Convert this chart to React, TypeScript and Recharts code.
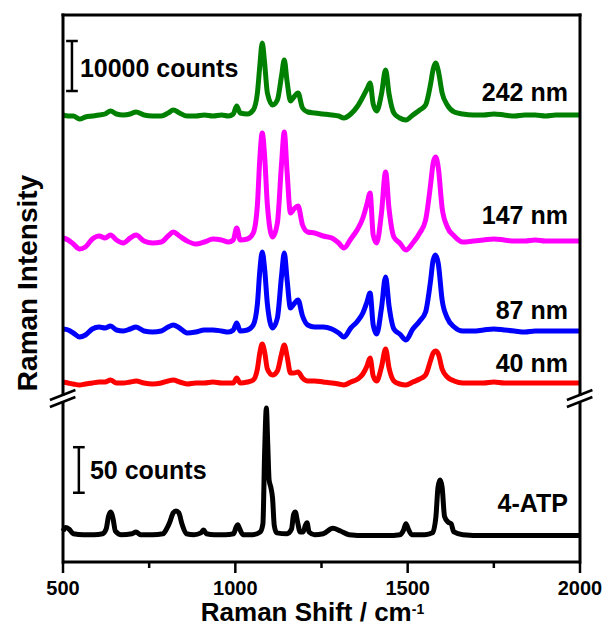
import React from "react";
import { LineChart, Line, XAxis, YAxis, ReferenceLine, ReferenceDot } from "recharts";

const FONT = "'Liberation Sans', Arial, sans-serif";

// Raman shift grid (cm-1) shared by the four SERS spectra
const sersShift = [
  500, 515, 530, 548, 565, 585, 605, 622, 638, 655,
  675, 695, 712, 735, 760, 785, 805, 820, 838, 860,
  885, 910, 935, 960, 980, 994, 1004, 1014, 1035, 1052,
  1064, 1071, 1078, 1085, 1093, 1108, 1122, 1134, 1142, 1150,
  1160, 1170, 1182, 1195, 1210, 1230, 1255, 1280, 1300, 1315,
  1335, 1355, 1370, 1382, 1391, 1400, 1410, 1424, 1436, 1446,
  1460, 1477, 1495, 1515, 1535, 1552, 1566, 1574, 1581, 1589,
  1600, 1615, 1635, 1660, 1690, 1720, 1750, 1780, 1810, 1840,
  1870, 1900, 1930, 1960, 2000,
];

// counts above each trace's own baseline
const sers242 = [
  0, -200, -200, -800, -400, -200, 0, 200, 800, 200,
  0, 200, 600, 0, -200, -200, 400, 1000, 400, -200,
  -200, 0, -200, 0, -200, 200, 1800, 400, 200, 1000,
  4400, 9800, 14400, 10400, 4400, 2000, 3000, 7800, 11000, 6800,
  2800, 3600, 4400, 1400, 600, 400, 200, 0, -200, -600,
  200, 1800, 3600, 5200, 6400, 2200, 800, 4200, 9000, 4200,
  400, -600, -1000, 0, 1000, 2000, 6000, 9200, 10400, 8800,
  4400, 2000, 600, 200, 0, 0, 200, 0, -200, 0,
  0, -200, 0, 0, 0,
];
const sers147 = [
  600, 200, -600, -1600, -1200, 400, 1000, 600, 1200, 200,
  -400, 600, 1200, 0, -400, -200, 1000, 1800, 1000, 0,
  -600, -200, 400, 200, -200, 200, 2600, 200, 400, 1600,
  7200, 16400, 21600, 17000, 7200, 800, 3600, 15400, 21800, 14000,
  5600, 6400, 7000, 3200, 1800, 1600, 1000, 600, -400, -1400,
  400, 2400, 4600, 7400, 9600, 1200, -400, 5600, 13800, 6400,
  800, -400, -1800, -400, 1600, 4200, 11000, 15600, 16800, 14600,
  6600, 2800, 1000, -200, 0, 200, 400, 200, 0, 0,
  200, 0, 0, 0, 0,
];
const sers87 = [
  400, 200, -400, -1200, -800, 400, 800, 600, 1000, 200,
  0, 400, 800, 0, -200, 0, 800, 1200, 600, -400,
  -200, 200, 200, 0, -200, 200, 1600, 0, 200, 1200,
  5400, 12000, 15800, 12400, 5400, 600, 2600, 11000, 15600, 10400,
  4600, 5400, 6200, 3000, 1200, 800, 800, 400, -400, -1200,
  600, 2000, 3600, 5800, 7600, 1200, -600, 4600, 10800, 5000,
  400, -600, -1800, 400, 2000, 3800, 9800, 14200, 15200, 13400,
  6200, 2600, 800, 0, 0, 200, 400, 200, 0, -200,
  0, 0, 0, 0, 0,
];
const sers40 = [
  200, 0, -200, -400, -200, 0, 200, 200, 600, 0,
  0, 200, 400, 0, -200, 0, 400, 600, 200, -200,
  0, 0, 200, 0, 0, 0, 1000, 0, 200, 600,
  2800, 6000, 7800, 6200, 2800, 1600, 2400, 5800, 7600, 5400,
  2000, 2000, 2200, 1000, 400, 400, 200, 0, -200, -400,
  200, 800, 1800, 3400, 5000, 1400, 400, 3200, 6800, 3000,
  400, -200, -400, 200, 800, 1600, 4400, 6000, 6400, 5800,
  2800, 1200, 400, 0, 0, 0, 200, 0, 0, 0,
  0, 0, 0, 0, 0,
];

// stacking offsets (counts)
const stackOffset = { s242: 56600, s147: 31400, s87: 13400, s40: 3000 };

// 4-ATP powder spectrum
const atpShift = [
  500, 508, 518, 530, 560, 590, 615, 625, 632, 638,
  645, 652, 670, 700, 712, 725, 760, 790, 800, 810,
  820, 828, 836, 845, 858, 880, 900, 908, 916, 940,
  970, 995, 1002, 1007, 1013, 1022, 1050, 1072, 1080, 1085,
  1090, 1094, 1098, 1103, 1108, 1113, 1120, 1150, 1163, 1169,
  1174, 1180, 1188, 1197, 1203, 1208, 1214, 1230, 1255, 1283,
  1305, 1330, 1380, 1440, 1478, 1488, 1495, 1502, 1512, 1550,
  1572, 1582, 1588, 1594, 1600, 1607, 1617, 1626, 1634, 1660,
  1720, 1800, 1880, 1950, 2000,
];
const atpCounts = [
  34, 38, 36, 31, 30, 30, 31, 36, 50, 55,
  48, 34, 30, 31, 33, 30, 30, 31, 36, 44,
  54, 56, 54, 42, 31, 30, 32, 35, 31, 30,
  30, 31, 38, 41, 36, 30, 30, 33, 42, 120,
  169, 130, 90, 82, 70, 40, 32, 31, 36, 52,
  55, 45, 33, 33, 40, 43, 33, 30, 31, 37,
  34, 30, 29, 29, 30, 35, 42, 36, 30, 30,
  32, 50, 82, 90, 82, 50, 44, 42, 33, 30,
  29, 29, 29, 29, 29,
];

const xTicks = [500, 750, 1000, 1250, 1500, 1750, 2000];
const xLabels = [500, 1000, 1500, 2000];

const traces = [
  { key: "s242", name: "242 nm", color: "#008000", tagY: 61200 },
  { key: "s147", name: "147 nm", color: "#ff00ff", tagY: 36600 },
  { key: "s87", name: "87 nm", color: "#0000ff", tagY: 17600 },
  { key: "s40", name: "40 nm", color: "#ff0000", tagY: 7000 },
];

const topRows = sersShift.map((x, i) => ({
  x,
  s242: stackOffset.s242 + sers242[i],
  s147: stackOffset.s147 + sers147[i],
  s87: stackOffset.s87 + sers87[i],
  s40: stackOffset.s40 + sers40[i],
}));
const bottomRows = atpShift.map((x, i) => ({ x, atp: atpCounts[i] }));

const TOP_MAX = 76600;
const BOT_MAX = 180;

const txt = { fill: "#000", fontFamily: FONT, fontWeight: 700 };
const frame = { stroke: "#000", strokeWidth: 3, strokeLinecap: "square" as const };
const bar = { stroke: "#000", strokeWidth: 2.5 };

function ShiftTick(props: any) {
  const { x, y, payload } = props;
  const major = xLabels.includes(payload.value);
  return (
    <g>
      <line x1={x} x2={x} y1={y} y2={y + (major ? 11 : 6)} stroke="#000" strokeWidth={2.5} />
      {major && (
        <text x={x} y={y + 33} textAnchor="middle" fontSize={20} {...txt}>
          {payload.value}
        </text>
      )}
    </g>
  );
}

function ShiftTitle(props: any) {
  const vb = props.viewBox;
  return (
    <text x={vb.x + vb.width / 2 - 9} y={vb.y + 59} textAnchor="middle" fontSize={26} {...txt}>
      Raman Shift / cm
      <tspan dy={-7} fontSize={14}>-1</tspan>
    </text>
  );
}

export default function App() {
  return (
    <div style={{ position: "absolute", left: 0, top: 0, width: 609, height: 628, background: "#fff" }}>
      <div style={{ position: "absolute", left: 0, top: 0 }}>
        <LineChart width={609} height={628} data={topRows} margin={{ top: 15, right: 29, bottom: 230, left: 63 }}>
          <XAxis dataKey="x" type="number" domain={[500, 2000]} hide />
          <YAxis type="number" domain={[0, TOP_MAX]} hide />
          {traces.map((t) => (
            <Line
              key={t.key}
              dataKey={t.key}
              type="monotone"
              stroke={t.color}
              strokeWidth={5}
              strokeLinejoin="round"
              dot={false}
              isAnimationActive={false}
            />
          ))}
          <ReferenceLine x={500} {...frame} />
          <ReferenceLine x={2000} {...frame} />
          <ReferenceLine y={TOP_MAX} {...frame} />
          <ReferenceLine segment={[{ x: 526, y: 61400 }, { x: 526, y: 71400 }]} {...bar} />
          <ReferenceLine segment={[{ x: 509, y: 61400 }, { x: 543, y: 61400 }]} {...bar} />
          <ReferenceLine segment={[{ x: 509, y: 71400 }, { x: 543, y: 71400 }]} {...bar} />
          <ReferenceDot
            x={549}
            y={66000}
            r={0}
            label={{ value: "10000 counts", position: "right", offset: 0, fontSize: 25, ...txt }}
          />
          {traces.map((t) => (
            <ReferenceDot
              key={t.key + "-tag"}
              x={1965}
              y={t.tagY}
              r={0}
              label={{ value: t.name, position: "left", offset: 0, fontSize: 25, ...txt }}
            />
          ))}
          <ReferenceDot
            x={396}
            y={23000}
            r={0}
            ifOverflow="visible"
            label={{ value: "Raman Intensity", position: "center", angle: -90, fontSize: 28, ...txt }}
          />
        </LineChart>
      </div>
      <div style={{ position: "absolute", left: 0, top: 0 }}>
        <LineChart width={609} height={628} data={bottomRows} margin={{ top: 398, right: 29, bottom: 0, left: 63 }}>
          <XAxis
            dataKey="x"
            type="number"
            domain={[500, 2000]}
            ticks={xTicks}
            interval={0}
            height={66}
            tickLine={false}
            tickSize={0}
            tickMargin={0}
            tick={ShiftTick}
            axisLine={{ stroke: "#000", strokeWidth: 3 }}
            label={ShiftTitle}
          />
          <YAxis type="number" domain={[0, BOT_MAX]} hide />
          <Line
            dataKey="atp"
            type="monotone"
            stroke="#000"
            strokeWidth={5}
            strokeLinejoin="round"
            dot={false}
            isAnimationActive={false}
          />
          <ReferenceLine x={500} {...frame} />
          <ReferenceLine x={2000} {...frame} />
          <ReferenceLine segment={[{ x: 546, y: 76 }, { x: 546, y: 126 }]} {...bar} />
          <ReferenceLine segment={[{ x: 529, y: 76 }, { x: 563, y: 76 }]} {...bar} />
          <ReferenceLine segment={[{ x: 529, y: 126 }, { x: 563, y: 126 }]} {...bar} />
          <ReferenceDot
            x={578}
            y={101}
            r={0}
            label={{ value: "50 counts", position: "right", offset: 0, fontSize: 25, ...txt }}
          />
          <ReferenceDot
            x={1965}
            y={65}
            r={0}
            label={{ value: "4-ATP", position: "left", offset: 0, fontSize: 25, ...txt }}
          />
          {/* axis break */}
          {[500, 2000].map((bx) => (
            <React.Fragment key={bx}>
              <ReferenceLine
                segment={[{ x: bx, y: 176.5 }, { x: bx, y: 182.5 }]}
                ifOverflow="visible"
                stroke="#fff"
                strokeWidth={5}
              />
              <ReferenceLine
                segment={[{ x: bx - 38, y: 177.8 }, { x: bx + 36, y: 188.8 }]}
                ifOverflow="visible"
                {...bar}
              />
              <ReferenceLine
                segment={[{ x: bx - 38, y: 170.1 }, { x: bx + 36, y: 181.1 }]}
                ifOverflow="visible"
                {...bar}
              />
            </React.Fragment>
          ))}
        </LineChart>
      </div>
    </div>
  );
}
